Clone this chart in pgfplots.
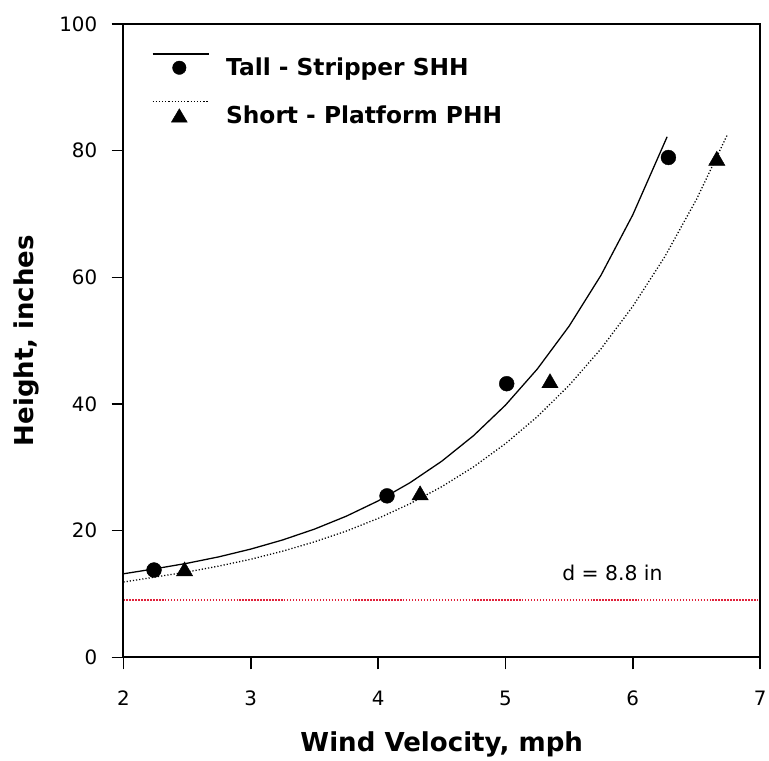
\documentclass[border=0pt]{standalone}
\usepackage{fontspec}
\setmainfont{DejaVu Sans}
\usepackage{pgfplots}
\pgfplotsset{compat=1.18}
\usetikzlibrary{calc}
\definecolor{dline}{HTML}{E0203A}

% exponential fits
\pgfplotstableread{
x y
2.00 13.20
2.25 14.00
2.50 14.86
2.75 15.88
3.00 17.10
3.25 18.54
3.50 20.25
3.75 22.29
4.00 24.70
4.25 27.57
4.50 30.97
4.75 35.01
5.00 39.81
5.25 45.51
5.50 52.28
5.75 60.30
6.00 69.84
6.27 82.17
}\fittall
\pgfplotstableread{
x y
2.00 11.90
2.25 12.69
2.50 13.49
2.75 14.42
3.00 15.50
3.25 16.77
3.50 18.24
3.75 19.94
4.00 21.94
4.25 24.26
4.50 26.95
4.75 30.08
5.00 33.74
5.25 37.99
5.50 42.94
5.75 48.69
6.00 55.40
6.25 63.19
6.50 72.27
6.74 82.37
}\fitshort

\begin{document}
\begin{tikzpicture}
\begin{axis}[
  scale only axis, width=642pt, height=639pt,
  xmin=2, xmax=7, ymin=0, ymax=100,
  xtick={2,3,4,5,6,7}, ytick={0,20,40,60,80,100},
  tick align=outside, xtick pos=bottom, ytick pos=left, major tick length=12pt,
  axis line style={line width=1.8pt}, tick style={line width=1.5pt, black},
  /pgf/number format/assume math mode=true,
  ticklabel style={font=\fontsize{20}{24}\selectfont},
  xticklabel shift=18pt, yticklabel shift=11pt,
  xlabel={Wind Velocity, mph}, ylabel={Height, inches},
  xlabel style={at={(axis description cs:0.5,-0.137)}, anchor=center,
                font=\fontsize{26.3}{30}\selectfont\bfseries},
  ylabel style={at={(axis description cs:-0.152,0.5)}, anchor=center,
                font=\fontsize{26.2}{30}\selectfont\bfseries},
  legend style={at={(rel axis cs:0.0397,0.957)}, anchor=north west, draw=none,
                fill=none, font=\fontsize{23.5}{27}\selectfont\bfseries,
                row sep=22pt},
  legend cell align=left,
]
  \addplot[black, line width=1.3pt, forget plot] table {\fittall};
  \addplot[black, line width=1.3pt, dash pattern=on 1.2pt off 2pt, forget plot] table {\fitshort};
  \addplot[only marks, mark=*, mark size=7.5pt, black, forget plot]
    coordinates {(2.24,13.8) (4.07,25.5) (5.01,43.2) (6.28,78.9)};
  \addplot[only marks, mark=triangle*, mark size=9.5pt, black, forget plot]
    coordinates {(2.48,13.6) (4.33,25.6) (5.35,43.3) (6.66,78.4)};
  \addplot[dline, line width=1.6pt, dash pattern=on 1.4pt off 1.6pt, forget plot]
    coordinates {(2,9.1) (7,9.1)};
  \node[font=\fontsize{20.5}{24}\selectfont] at (axis cs:5.84,13.3) {d = 8.8 in};

  \addlegendimage{legend image code/.code={
    \draw[black, line width=1.3pt] (0pt,14pt) -- (57pt,14pt);
    \fill[black] (27pt,0pt) circle (6.8pt);
    \path (72pt,0pt);}}
  \addlegendentry{Tall - Stripper SHH}
  \addlegendimage{legend image code/.code={
    \draw[black, line width=1.3pt, dash pattern=on 1.2pt off 2pt] (0pt,14pt) -- (57pt,14pt);
    \fill[black] (27pt,7pt) -- (19pt,-6.5pt) -- (35pt,-6.5pt) -- cycle;
    \path (72pt,0pt);}}
  \addlegendentry{Short - Platform PHH}

  \coordinate (ll) at (rel axis cs:0,0);
  \coordinate (ur) at (rel axis cs:1,1);
\end{axis}
\draw[black, line width=2pt] (ll) rectangle (ur);
\pgfresetboundingbox
\path ($(ll)+(-124.5pt,-104pt)$) rectangle ($(ur)+(9pt,24pt)$);
\end{tikzpicture}
\end{document}
